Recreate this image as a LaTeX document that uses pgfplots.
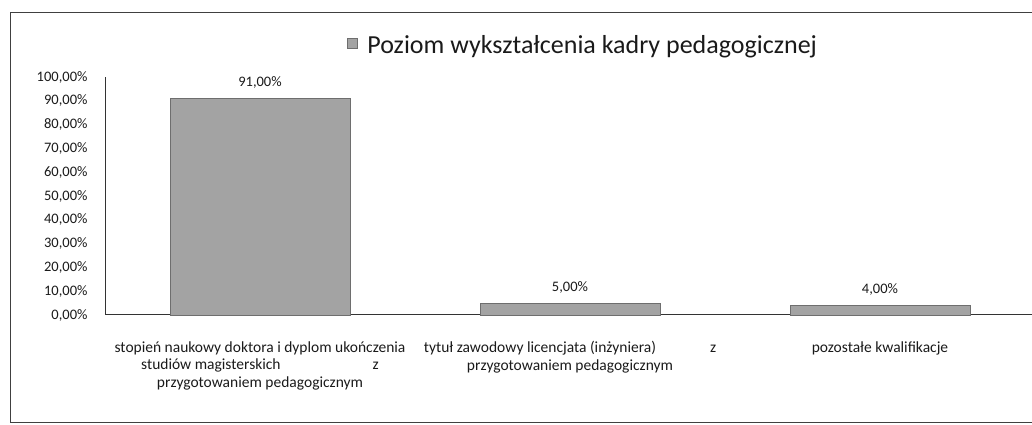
\documentclass[border=0pt]{standalone}
\usepackage{pgfplots}
\pgfplotsset{compat=1.18}
\usepackage{fontspec}
\setmainfont{Carlito}
\definecolor{barfill}{HTML}{A3A3A3}
\definecolor{bardraw}{HTML}{6E6E6E}
\definecolor{txt}{HTML}{1A1A1A}
\begin{document}
\begin{tikzpicture}
\useasboundingbox (0,0) rectangle (1032pt,425pt);
\draw[black!75, line width=1pt] (1040pt,412pt) -- (10pt,412pt) -- (10pt,2pt) -- (1040pt,2pt);
\begin{axis}[
  at={(105pt,110pt)}, anchor=south west,
  scale only axis, width=930pt, height=238pt,
  xmin=-0.5, xmax=2.5, ymin=0, ymax=100,
  clip=false,
  axis x line=bottom, axis y line=left,
  axis line style={-, black!80, line width=1pt},
  major tick length=0pt,
  ytick={0,10,...,100},
  /pgf/number format/assume math mode=true,
  yticklabel={\pgfmathprintnumber[fixed,fixed zerofill,precision=2,use comma]{\tick}\%},
  yticklabel style={font=\fontsize{14.5}{17}\selectfont, text=txt, xshift=-14pt},
  xtick={0,1,2},
  xticklabels={
    {stopień naukowy doktora i dyplom ukończenia\\studiów magisterskich\hspace{92pt}z\\przygotowaniem pedagogicznym},
    {tytuł zawodowy licencjata (inżyniera)\hspace{54pt}z\\przygotowaniem pedagogicznym},
    {pozostałe kwalifikacje}},
  xticklabel style={font=\fontsize{15.5}{17.5}\selectfont, text=txt, align=center, anchor=north, yshift=-23pt},
  ybar, bar width=180pt,
  nodes near coords={\pgfmathprintnumber[fixed,fixed zerofill,precision=2,use comma]{\pgfplotspointmeta}\%},
  nodes near coords style={font=\fontsize{14.5}{17}\selectfont, text=txt, yshift=6pt},
  legend style={at={(0.514,1.134)}, anchor=center, draw=none, fill=none,
    font=\fontsize{26}{30}\selectfont, text=txt},
  legend image code/.code={\path[draw=none, fill=none] (0pt,0pt) rectangle (18pt,1pt);\draw[fill=barfill, draw=bardraw] (0pt,-3pt) rectangle (10pt,7pt);},
]
\addplot[fill=barfill, draw=bardraw, line width=0.6pt] coordinates {(0,91) (1,5) (2,4)};
\addlegendentry{Poziom wykształcenia kadry pedagogicznej}
\end{axis}
\end{tikzpicture}
\end{document}
